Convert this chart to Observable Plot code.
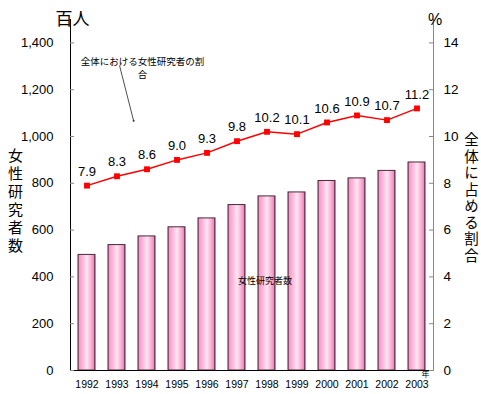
<!DOCTYPE html>
<html>
<head>
<meta charset="utf-8">
<script src="https://cdn.jsdelivr.net/npm/d3@7"></script>
<script src="https://cdn.jsdelivr.net/npm/@observablehq/plot@0.6"></script>
<style>
  body { margin: 0; background: #fff; }
  .vertical text { writing-mode: vertical-rl; text-orientation: upright; }
</style>
</head>
<body>
<div id="chart"></div>
<script>
// 女性研究者数（百人）と全体に占める割合（%）
const years = ["1992", "1993", "1994", "1995", "1996", "1997", "1998", "1999", "2000", "2001", "2002", "2003"];
const researchers = [494, 536, 573, 612, 650, 707, 744, 761, 810, 821, 853, 889];
const sharePct = [7.9, 8.3, 8.6, 9.0, 9.3, 9.8, 10.2, 10.1, 10.6, 10.9, 10.7, 11.2];
const leftTicks = [0, 200, 400, 600, 800, 1000, 1200, 1400];
const rightTicks = [0, 2, 4, 6, 8, 10, 12, 14];

// the right-hand % axis shares the vertical scale: 1 % ↔ 100 百人
const pctToY = 100;

const rows = years.map((year, i) => ({year, count: researchers[i], share: sharePct[i]}));

const font = '"Liberation Sans", Arial, "Noto Sans CJK JP", sans-serif';
const cjk = '"Noto Sans CJK JP", "Liberation Sans", sans-serif';

const plot = Plot.plot({
  width: 481,
  height: 394,
  marginLeft: 70,
  marginRight: 48,
  marginTop: 19,
  marginBottom: 24,
  style: {fontFamily: font, background: "white", color: "black"},
  x: {type: "band", domain: years, paddingInner: 0.42, paddingOuter: 0.21},
  y: {domain: [0, 1500]},
  marks: [
    // bars
    Plot.barY(rows, {x: "year", y: "count", fill: "url(#barGrad)", stroke: "#4a2a3a", strokeWidth: 1}),

    // axis lines
    Plot.frame({anchor: "left", stroke: "black"}),
    Plot.frame({anchor: "right", stroke: "#888"}),
    Plot.ruleY([0], {stroke: "black"}),

    // inward tick marks
    Plot.ruleY(leftTicks, {y: d => d, stroke: "#888", insetRight: 359}),
    Plot.ruleY(rightTicks, {y: d => d * pctToY, stroke: "#888", insetLeft: 359}),

    // tick labels
    Plot.axisY({anchor: "left", ticks: leftTicks, tickSize: 0, tickPadding: 17, tickFormat: d3.format(","), fontSize: 13, label: null}),
    Plot.axisY({anchor: "right", ticks: rightTicks.map(v => v * pctToY), tickSize: 0, tickPadding: 10, tickFormat: d => d / pctToY, fontSize: 13.5, label: null}),
    Plot.axisX({tickSize: 0, tickPadding: 10, fontSize: 10.5, label: null}),

    // share line
    Plot.lineY(rows, {x: "year", y: d => d.share * pctToY, stroke: "#ff0000", strokeWidth: 1.5}),
    Plot.dot(rows, {x: "year", y: d => d.share * pctToY, symbol: "square", fill: "#ff0000", r: 3.3}),
    Plot.text(rows, {x: "year", y: d => d.share * pctToY, text: d => d3.format(".1f")(d.share), dy: -14, fontSize: 13}),

    // axis titles
    Plot.text(["百人"], {frameAnchor: "top-left", textAnchor: "middle", dx: 2, dy: -7, fontSize: 17, fontFamily: cjk}),
    Plot.text(["%"], {frameAnchor: "top-right", textAnchor: "middle", dx: 1.5, dy: -6, fontSize: 16}),
    Plot.text(["女性研究者数"], {frameAnchor: "left", textAnchor: "middle", dx: -55, dy: 2, fontSize: 15, fontFamily: cjk, className: "vertical left-title"}),
    Plot.text(["全体に占める割合"], {frameAnchor: "right", textAnchor: "middle", dx: 38, dy: -1, fontSize: 14.5, fontFamily: cjk, className: "vertical right-title"}),
    Plot.text(["年"], {frameAnchor: "bottom-right", textAnchor: "middle", dx: -8, dy: 6, fontSize: 8, fontFamily: cjk}),

    // callout for the line
    Plot.text(["全体における女性研究者の割\n合"], {x: ["1994"], y: [1297], dx: -4.5, fontSize: 9.5, lineHeight: 1.45, fontFamily: cjk}),
    Plot.vector([0], {
      x: () => "1993", y: () => 1302, dx: 2.6, anchor: "start",
      length: 56.8, rotate: 165.7, stroke: "#333", strokeWidth: 0.8,
      shape: {draw(context, l) { context.moveTo(0, 0); context.lineTo(0, -l); }}
    }),
    Plot.dot([0], {x: () => "1993", y: () => 1067, dx: 16.6, r: 1, fill: "#333"}),

    // label for the bars
    Plot.text(["女性研究者数"], {x: ["1998"], y: [380], dx: -2, fontSize: 9, fontFamily: cjk, className: "bar-note"})
  ]
});

document.getElementById("chart").append(plot);

const svg = d3.select(plot);

// vertical titles: glyphs stacked top to bottom, centred on their anchor
svg.selectAll("g.vertical text").attr("dy", null);
svg.selectAll("g.left-title text").attr("letter-spacing", 3);
svg.selectAll("g.right-title text").attr("letter-spacing", 2);

// horizontal shading of the bars
const grad = svg.insert("defs", ":first-child")
  .append("linearGradient")
  .attr("id", "barGrad")
  .attr("x1", "0%").attr("x2", "100%").attr("y1", "0%").attr("y2", "0%");
[
  ["0%", "#b45a88"],
  ["7%", "#f49ccb"],
  ["28%", "#fbb8da"],
  ["52%", "#ffe6f3"],
  ["76%", "#fab2d6"],
  ["91%", "#ef8fc0"],
  ["100%", "#8e3e66"]
].forEach(([o, c]) => grad.append("stop").attr("offset", o).attr("stop-color", c));

// white box behind the bar label
svg.selectAll("g.bar-note text").each(function () {
  const b = this.getBBox();
  d3.select(this.parentNode).insert("rect", ":first-child")
    .attr("x", b.x - 4).attr("y", b.y - 2)
    .attr("width", b.width + 8).attr("height", b.height + 4)
    .attr("fill", "white");
});
</script>
</body>
</html>
